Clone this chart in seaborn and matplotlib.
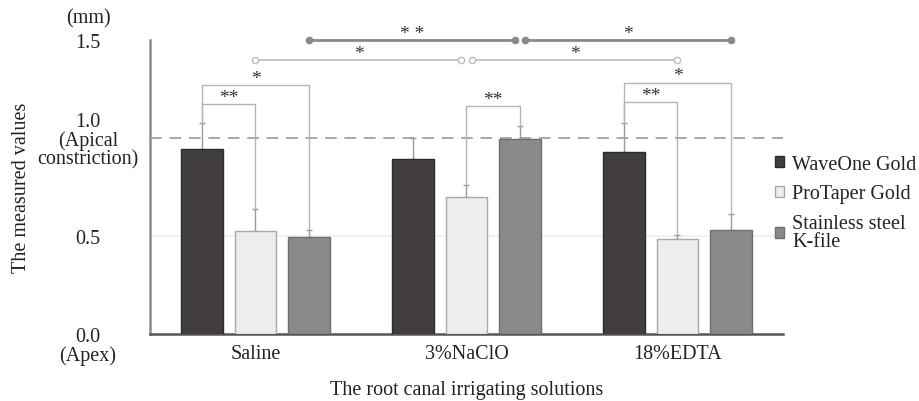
import numpy as np
import pandas as pd
import matplotlib
matplotlib.use("Agg")
import matplotlib.pyplot as plt
import seaborn as sns
from matplotlib.patches import Patch

# ---- data ----
solutions = ["Saline", "3%NaClO", "18%EDTA"]
instruments = ["WaveOne Gold", "ProTaper Gold", "Stainless steel\nK-file"]
wave_one = [0.944, 0.893, 0.929]
protaper = [0.526, 0.699, 0.485]
stainless = [0.495, 0.995, 0.531]
wave_one_sd = [0.133, 0.107, 0.149]
protaper_sd = [0.112, 0.061, 0.020]
stainless_sd = [0.036, 0.066, 0.081]
y_ticks = [0.0, 0.5, 1.0, 1.5]
y_ticklabels = ["0.0", "0.5", "1.0\n(Apical\nconstriction)", "1.5"]
apex_label = "(Apex)"

colors = ["#433e3d", "#eceeed", "#8a8a8a"]
edges = ["#2e2a29", "#a9a9a9", "#6f6f6f"]

df = pd.DataFrame({
    "solution": solutions * 3,
    "instrument": sum([[ins] * 3 for ins in instruments], []),
    "value": wave_one + protaper + stainless,
})
sds = [wave_one_sd, protaper_sd, stainless_sd]

sns.set_style("white")
plt.rcParams["font.family"] = ["Liberation Serif", "DejaVu Serif"]
FS = 14.5
TXT = "#222222"

fig = plt.figure(figsize=(9.19, 4.02), dpi=100)
ax = fig.add_axes([0.1632, 0.1667, 0.852 - 0.1632, 0.898 - 0.1667])

sns.barplot(data=df, x="solution", y="value", hue="instrument",
            order=solutions, hue_order=instruments, palette=colors,
            width=0.76, gap=0.23, errorbar=None, legend=False, ax=ax,
            linewidth=1.0, zorder=3)

centers = {}
tops = {}
bar_containers = list(ax.containers)
for i, cont in enumerate(bar_containers):
    for j, bar in enumerate(cont):
        bar.set_edgecolor(edges[i])
        bar.set_linewidth(1.0)
        cx = bar.get_x() + bar.get_width() / 2
        h = bar.get_height()
        centers[(i, j)] = cx
        tops[(i, j)] = h + sds[i][j]
        ax.errorbar(cx, h, yerr=[[0], [sds[i][j]]], fmt="none",
                    ecolor="#9a9a9a", elinewidth=1.0, capsize=2,
                    capthick=1.0, zorder=2)

ax.set_xlim(-0.5, 2.5)
ax.set_ylim(0, 1.5)
ax.set_yticks(y_ticks)
ax.set_yticklabels(y_ticklabels, ha="center", fontsize=FS,
                   linespacing=0.95, color=TXT)
ax.tick_params(axis="y", pad=44.6, length=0)
ax.tick_params(axis="x", length=0, labelsize=FS, colors=TXT, pad=7)
ax.axhline(0.5, color="#eeeeee", lw=1.2, zorder=0)
ax.axhline(1.0, color="#a8a8a8", lw=1.4, ls=(0, (6, 4)), zorder=1)
fig.text(88 / 919, 1 - 346 / 402, apex_label, ha="center", va="top",
         fontsize=FS, color=TXT)

for s in ["top", "right"]:
    ax.spines[s].set_visible(False)
ax.spines["left"].set_color("#8c8c8c")
ax.spines["left"].set_linewidth(1.8)
ax.spines["bottom"].set_color("#555555")
ax.spines["bottom"].set_linewidth(1.8)

ax.set_xlabel("The root canal irrigating solutions", fontsize=FS, color=TXT,
              va="top")
ax.xaxis.set_label_coords(0.5, -0.158)
ax.set_ylabel("The measured values", fontsize=FS, color=TXT)
ax.yaxis.set_label_coords(-0.188, 0.5)
fig.text(88 / 919, 1 - 19 / 402, "(mm)", ha="center", va="center",
         fontsize=FS, color=TXT)

# ---- significance brackets (within group) ----
bk = "#b5b5b5"
AFS = 14
def bracket(x1, y1, x2, y2, yb, label):
    ax.plot([x1, x1, x2, x2], [y1, yb, yb, y2], color=bk, lw=1.0,
            zorder=4, clip_on=False)
    ax.text((x1 + x2) / 2, yb - 0.008, label, ha="center", va="bottom",
            fontsize=AFS, color="#333333")

brackets = [
    (0, 1, 0, 1.173, "**"), (0, 2, 0, 1.270, "*"),
    (1, 2, 1, 1.163, "**"),
    (0, 1, 2, 1.184, "**"), (0, 2, 2, 1.281, "*"),
]
for a, b, g, yb, lab in brackets:
    bracket(centers[(a, g)], tops[(a, g)], centers[(b, g)], tops[(b, g)], yb, lab)

# ---- between-group lines ----
def dotline(x1, x2, y, label, filled, color, lw):
    ax.plot([x1, x2], [y, y], color=color, lw=lw, zorder=4, clip_on=False)
    ax.plot([x1, x2], [y, y], ls="none", marker="o", ms=4.5,
            mfc=color if filled else "white", mec=color, mew=1.0,
            zorder=5, clip_on=False)
    ax.text((x1 + x2) / 2, y - 0.012, label, ha="center", va="bottom",
            fontsize=AFS, color="#333333")

off = 0.024
dotline(centers[(2, 0)], centers[(2, 1)] - off, 1.5, "* *", True, "#8a8a8a", 2.0)
dotline(centers[(2, 1)] + off, centers[(2, 2)], 1.5, "*", True, "#8a8a8a", 2.0)
dotline(centers[(1, 0)], centers[(1, 1)] - off, 1.398, "*", False, "#bdbdbd", 1.2)
dotline(centers[(1, 1)] + off, centers[(1, 2)], 1.398, "*", False, "#bdbdbd", 1.2)

# ---- legend ----
handles = [Patch(facecolor=colors[i], edgecolor=edges[i]) for i in range(3)]
fig.legend(handles, instruments, loc="upper left",
           bbox_to_anchor=(775 / 919, 1 - 156 / 402), frameon=False,
           fontsize=FS, handlelength=0.45, handleheight=0.45,
           handletextpad=0.4, labelspacing=0.52, borderaxespad=0,
           borderpad=0)
for t in fig.legends[0].get_texts():
    t.set_linespacing(0.95)
    t.set_color(TXT)

fig.savefig("out.png", dpi=100)
